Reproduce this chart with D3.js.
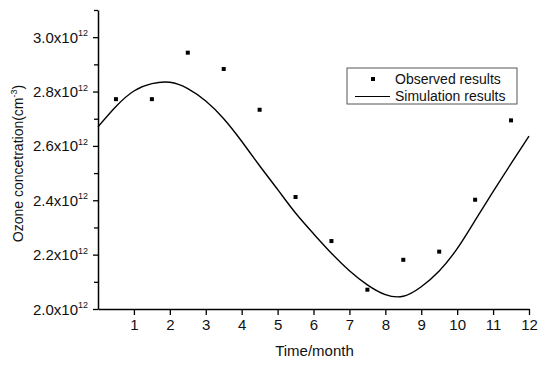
<!DOCTYPE html>
<html>
<head>
<meta charset="utf-8">
<script src="https://cdn.jsdelivr.net/npm/d3@7"></script>
<style>
  body { margin: 0; background: #fff; }
  text { font-family: "Liberation Sans", Arial, sans-serif; fill: #111; }
</style>
</head>
<body>
<div id="chart-area"></div>
<script>
// observed monthly values (x10^12 cm^-3)
var obsMonth = [0.5, 1.5, 2.5, 3.5, 4.5, 5.5, 6.5, 7.5, 8.5, 9.5, 10.5, 11.5];
var obsValue = [2.772, 2.772, 2.943, 2.883, 2.733, 2.412, 2.250, 2.071, 2.181, 2.211, 2.402, 2.694];

// simulated curve
var simMonth = [0, 0.5, 1, 1.5, 2, 2.5, 3, 3.5, 4, 4.5, 5, 5.5, 6, 6.5, 7, 7.5, 8, 8.5, 9, 9.5, 10, 10.5, 11, 11.5, 12];
var simValue = [2.670, 2.745, 2.802, 2.829, 2.834, 2.811, 2.765, 2.700, 2.617, 2.527, 2.440, 2.353, 2.277, 2.205, 2.141, 2.089, 2.053, 2.047, 2.082, 2.140, 2.222, 2.326, 2.432, 2.535, 2.636];

var xTicks = [1, 2, 3, 4, 5, 6, 7, 8, 9, 10, 11, 12];
var yTicks = [2.0, 2.2, 2.4, 2.6, 2.8, 3.0];
var yMinor = [2.1, 2.3, 2.5, 2.7, 2.9, 3.1];

var margin = { left: 98, right: 21, top: 10, bottom: 56 };
var width = 550 - margin.left - margin.right,
    height = 365 - margin.top - margin.bottom;

var svg = d3.select("#chart-area")
    .append("svg")
        .attr("width", 550)
        .attr("height", 365);
var g = svg.append("g")
        .attr("transform", "translate(" + margin.left + "," + margin.top + ")");

var x = d3.scaleLinear().domain([0, 12]).range([0, width]);
var y = d3.scaleLinear().domain([2.0, 3.1]).range([height, 0]);

// simulation line
var sim = simMonth.map(function(m, i) { return [m, simValue[i]]; });
var line = d3.line()
    .x(function(d) { return x(d[0]); })
    .y(function(d) { return y(d[1]); })
    .curve(d3.curveNatural);
g.append("path")
    .datum(sim)
    .attr("fill", "none")
    .attr("stroke", "#000")
    .attr("stroke-width", 1.4)
    .attr("d", line);

// observed points
g.selectAll("rect.obs")
    .data(obsMonth)
    .enter()
    .append("rect")
        .attr("class", "obs")
        .attr("x", function(d) { return x(d) - 2; })
        .attr("y", function(d, i) { return y(obsValue[i]) - 2; })
        .attr("width", 4)
        .attr("height", 4)
        .attr("fill", "#000");

// X Axis
var xAxis = g.append("g")
    .attr("transform", "translate(0," + height + ")")
    .call(d3.axisBottom(x).tickValues(xTicks).tickSize(6).tickSizeOuter(0).tickPadding(4));
xAxis.selectAll("text").attr("font-size", "15px").style("font-family", "Liberation Sans, Arial, sans-serif");

// Y Axis
var yAxis = g.append("g")
    .call(d3.axisLeft(y).tickValues(yTicks).tickSize(5).tickSizeOuter(0).tickFormat(""));
g.append("g")
    .call(d3.axisLeft(y).tickValues(yMinor).tickSize(4).tickFormat(""))
    .select(".domain").remove();

[xAxis, yAxis].forEach(function(a) {
    a.selectAll("path, line").attr("stroke", "#000").attr("stroke-width", 1.5);
});
g.selectAll(".tick line").attr("stroke", "#000").attr("stroke-width", 1.3);

// y tick labels with superscript
var yLab = g.selectAll("text.ylab")
    .data(yTicks)
    .enter()
    .append("text")
        .attr("class", "ylab")
        .attr("x", -10)
        .attr("y", function(d) { return y(d) + 5.5; })
        .attr("text-anchor", "end")
        .attr("font-size", "15px");
yLab.append("tspan").text(function(d) { return d.toFixed(1) + "x10"; });
yLab.append("tspan").attr("dy", -6.5).attr("font-size", "9px").text("12");

// X Label
g.append("text")
    .attr("x", x(6) + 1)
    .attr("y", height + 47)
    .attr("font-size", "15px")
    .attr("text-anchor", "middle")
    .text("Time/month");

// Y Label
var yt = g.append("text")
    .attr("transform", "rotate(-90)")
    .attr("x", -(height / 2) - 4)
    .attr("y", -75)
    .attr("font-size", "14px")
    .attr("text-anchor", "middle");
yt.append("tspan").text("Ozone concetration(cm");
yt.append("tspan").attr("dy", -6).attr("font-size", "9px").text("-3");
yt.append("tspan").attr("dy", 6).text(")");

// Legend
var lg = svg.append("g").attr("transform", "translate(347,68)");
lg.append("rect")
    .attr("width", 170)
    .attr("height", 36)
    .attr("fill", "#fff")
    .attr("stroke", "#555")
    .attr("stroke-width", 1);
lg.append("rect").attr("x", 24).attr("y", 9).attr("width", 4).attr("height", 4).attr("fill", "#000");
lg.append("line").attr("x1", 8).attr("x2", 43).attr("y1", 28.5).attr("y2", 28.5)
    .attr("stroke", "#000").attr("stroke-width", 1.2);
lg.append("text").attr("x", 48).attr("y", 16).attr("font-size", "14px").text("Observed results");
lg.append("text").attr("x", 48).attr("y", 33).attr("font-size", "14px").text("Simulation results");
</script>
</body>
</html>
